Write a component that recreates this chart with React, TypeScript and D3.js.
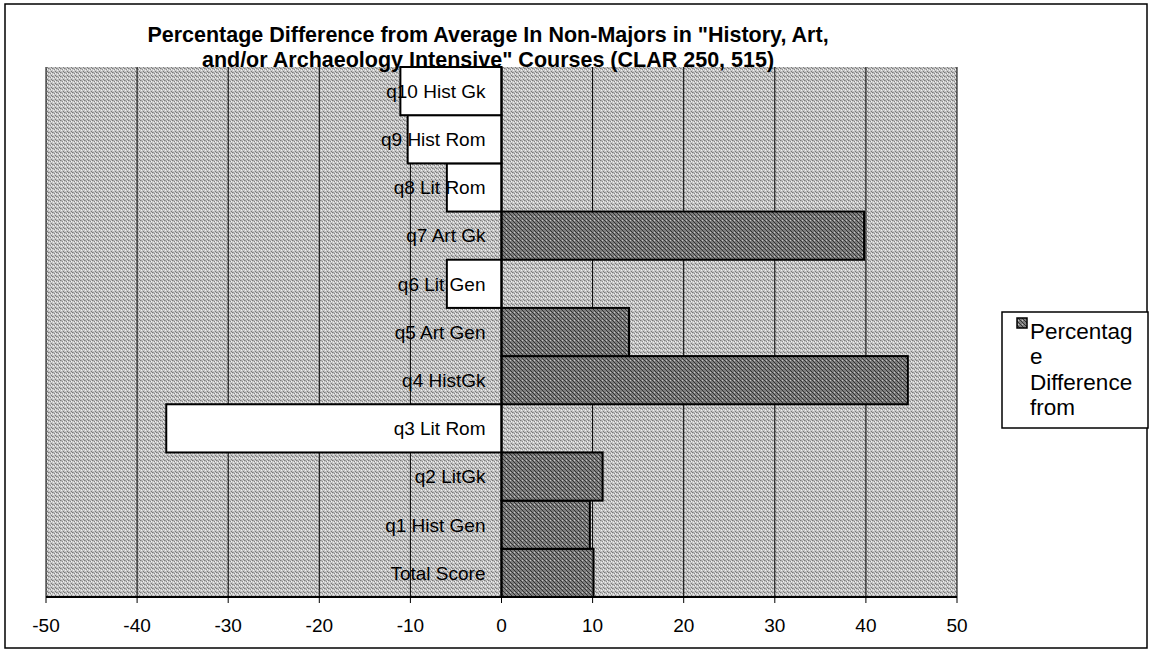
import * as d3 from "d3";

const categories = [
  "Total Score",
  "q1 Hist Gen",
  "q2 LitGk",
  "q3 Lit Rom",
  "q4 HistGk",
  "q5 Art Gen",
  "q6 Lit Gen",
  "q7 Art Gk",
  "q8 Lit Rom",
  "q9 Hist Rom",
  "q10 Hist Gk",
];
const values = [10.1, 9.7, 11.1, -36.8, 44.6, 14.0, -6.0, 39.8, -6.0, -10.3, -11.1];
const xTicks = [-50, -40, -30, -20, -10, 0, 10, 20, 30, 40, 50];
const titleLines = [
  'Percentage Difference from Average In Non-Majors in "History, Art,',
  'and/or Archaeology Intensive" Courses (CLAR 250, 515)',
];
const legendLines = ["Percentag", "e", "Difference", "from"];

const W = 1150;
const H = 650;
const plot = { left: 46, right: 957, top: 67, bottom: 597 };
const font = "Arial, 'Liberation Sans', Helvetica, sans-serif";

export default function App() {
  const x = d3.scaleLinear().domain([-50, 50]).range([plot.left, plot.right]);
  const y = d3
    .scaleBand<string>()
    .domain([...categories].reverse())
    .range([plot.top, plot.bottom])
    .padding(0);
  const x0 = x(0);

  return (
    <svg
      width={W}
      height={H}
      style={{ position: "absolute", left: 0, top: 0, background: "#fff" }}
      fontFamily={font}
    >
      <defs>
        <pattern id="bg" width="4" height="4" patternUnits="userSpaceOnUse">
          <rect width="4" height="4" fill="#c4c4c4" />
          <rect x="0" y="0" width="1" height="1" fill="#7a7a7a" />
          <rect x="2" y="1" width="1" height="1" fill="#8a8a8a" />
          <rect x="1" y="2" width="1" height="1" fill="#eeeeee" />
          <rect x="3" y="3" width="1" height="1" fill="#7a7a7a" />
          <rect x="3" y="1" width="1" height="1" fill="#f2f2f2" />
          <rect x="1" y="0" width="1" height="1" fill="#a0a0a0" />
        </pattern>
        <pattern id="hatch" width="4" height="4" patternUnits="userSpaceOnUse">
          <rect width="4" height="4" fill="#7e7e7e" />
          <path d="M0,0 L4,4 M-1,3 L1,5 M3,-1 L5,1" stroke="#333" strokeWidth="1" />
          <rect x="2" y="0" width="1" height="1" fill="#c4c4c4" />
        </pattern>
      </defs>

      {/* outer chart border */}
      <rect x={5} y={4} width={W - 8} height={H - 6} fill="none" stroke="#000" strokeWidth={1.5} />

      {/* plot area */}
      <rect
        x={plot.left}
        y={plot.top}
        width={plot.right - plot.left}
        height={plot.bottom - plot.top}
        fill="url(#bg)"
      />

      {/* vertical gridlines */}
      {xTicks.map((t) => (
        <line key={t} x1={x(t)} x2={x(t)} y1={plot.top} y2={plot.bottom} stroke="#000" strokeWidth={1} />
      ))}

      {/* bars */}
      {categories.map((c, i) => {
        const v = values[i];
        const bx = Math.min(x(v), x0);
        const bw = Math.abs(x(v) - x0);
        return (
          <rect
            key={c}
            x={bx}
            y={y(c)!}
            width={bw}
            height={y.bandwidth()}
            fill={v < 0 ? "#fff" : "url(#hatch)"}
            stroke="#000"
            strokeWidth={2}
          />
        );
      })}

      {/* zero axis */}
      <line x1={x0} x2={x0} y1={plot.top} y2={plot.bottom} stroke="#000" strokeWidth={2} />

      {/* category labels */}
      {categories.map((c) => (
        <text
          key={c}
          x={x0 - 16}
          y={y(c)! + y.bandwidth() / 2}
          dy="0.36em"
          textAnchor="end"
          fontSize={19}
          fill="#000"
        >
          {c}
        </text>
      ))}

      {/* bottom axis */}
      <line x1={plot.left} x2={plot.right} y1={plot.bottom} y2={plot.bottom} stroke="#000" strokeWidth={2} />
      {xTicks.map((t) => (
        <g key={t} transform={`translate(${x(t)},0)`}>
          <line y1={plot.bottom} y2={plot.bottom + 6} stroke="#000" strokeWidth={1} />
          <text y={632} textAnchor="middle" fontSize={19} fill="#000">
            {t}
          </text>
        </g>
      ))}

      {/* title */}
      {titleLines.map((l, i) => (
        <text
          key={i}
          x={488}
          y={42 + i * 25}
          textAnchor="middle"
          fontSize={21.5}
          fontWeight="bold"
          fill="#000"
        >
          {l}
        </text>
      ))}

      {/* legend */}
      <rect x={1002} y={312} width={146} height={116} fill="#fff" stroke="#000" strokeWidth={1.5} />
      <rect x={1017} y={318} width={10} height={10} fill="url(#hatch)" stroke="#000" strokeWidth={1.5} />
      {legendLines.map((l, i) => (
        <text key={i} x={1030} y={331 + i * 25.5} dy="0.35em" fontSize={22.5} fill="#000">
          {l}
        </text>
      ))}
    </svg>
  );
}
